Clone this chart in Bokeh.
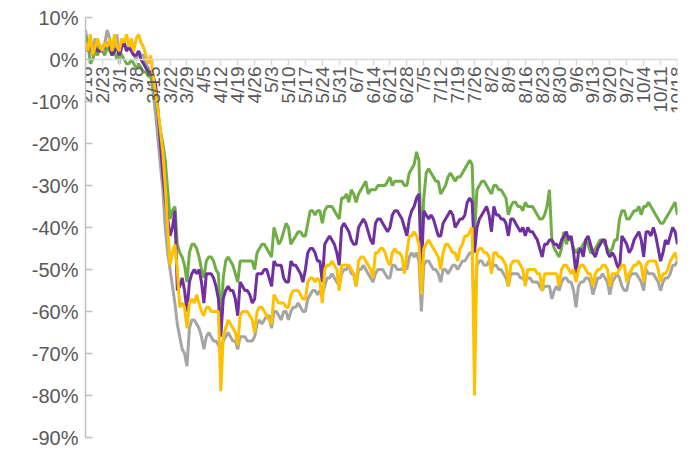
from math import pi
from bokeh.plotting import figure
from bokeh.models import Range1d, LinearAxis, FixedTicker, PrintfTickFormatter
from bokeh.embed import file_html
from bokeh.resources import INLINE
from bokeh.core.properties import value

# x categories: daily from 2/16 to 10/18; tick labels weekly
tick_labels = ["2/16", "2/23", "3/1", "3/8", "3/15", "3/22", "3/29", "4/5", "4/12",
               "4/19", "4/26", "5/3", "5/10", "5/17", "5/24", "5/31", "6/7", "6/14",
               "6/21", "6/28", "7/5", "7/12", "7/19", "7/26", "8/2", "8/9", "8/16",
               "8/23", "8/30", "9/6", "9/13", "9/20", "9/27", "10/4", "10/11", "10/18"]

gray_vals = [
    7, 3, 5, 2, 5, 3, 2,
    3, 4, 7, 5, 2, 4, 6,
    -1, 3, 4, 2, 3, 2, 1,
    0, 2, 1, 1, -1, -2, -4,
    -8, -13, -19, -25, -31, -40, -46,
    -50, -54, -58, -63, -66, -69, -70,
    -73, -64, -62, -62, -63, -64, -66,
    -69, -66, -65, -66, -67, -67, -68,
    -69, -67, -66, -65, -66, -67, -67,
    -69, -66, -66, -66, -67, -67, -67,
    -66, -63, -62, -63, -62, -61, -61,
    -64, -60, -60, -61, -62, -60, -60,
    -62, -60, -59, -59, -58, -59, -60,
    -60, -57, -56, -55, -55, -56, -55,
    -56, -54, -52, -52, -51, -52, -53,
    -54, -51, -50, -50, -49, -51, -51,
    -54, -50, -50, -49, -50, -51, -52,
    -53, -51, -50, -50, -50, -51, -52,
    -52, -49, -49, -50, -50, -50, -49,
    -50, -47, -46, -47, -46, -48, -60,
    -49, -48, -48, -49, -50, -50, -51,
    -53, -50, -50, -51, -50, -49, -49,
    -50, -49, -48, -48, -47, -46, -46,
    -63, -49, -48, -48, -49, -49, -48,
    -50, -49, -49, -50, -50, -51, -52,
    -54, -51, -51, -51, -51, -52, -52,
    -53, -52, -52, -53, -53, -53, -54,
    -55, -54, -54, -54, -57, -55, -54,
    -55, -53, -52, -52, -53, -53, -55,
    -59, -54, -53, -53, -52, -52, -53,
    -56, -54, -52, -52, -51, -52, -53,
    -56, -53, -52, -51, -52, -54, -55,
    -55, -52, -51, -51, -51, -52, -53,
    -55, -50, -51, -51, -51, -52, -53,
    -55, -53, -52, -52, -51, -49, -49,
    -48]

yellow_vals = [
    4, 2, 6, 1, 3, 5, 3,
    2, 4, 3, 5, 2, 6, 3,
    2, 5, 4, 6, 3, 5, 2,
    5, 6, 4, 3, 1, -1, 1,
    -4, -8, -12, -17, -22, -30, -40,
    -49, -46, -44, -50, -59, -58, -59,
    -64, -58, -57, -58, -56, -58, -60,
    -61, -59, -59, -60, -60, -60, -60,
    -79, -66, -64, -62, -63, -64, -65,
    -68, -61, -60, -60, -60, -61, -62,
    -65, -60, -59, -59, -60, -61, -62,
    -63, -56, -57, -58, -58, -58, -59,
    -59, -56, -55, -55, -55, -56, -57,
    -57, -53, -52, -52, -53, -52, -53,
    -58, -50, -49, -49, -48, -49, -50,
    -55, -49, -49, -49, -49, -50, -51,
    -54, -48, -47, -47, -48, -49, -50,
    -52, -46, -46, -45, -45, -46, -48,
    -49, -46, -45, -46, -46, -47, -51,
    -46, -42, -42, -41, -42, -44, -56,
    -45, -44, -43, -44, -45, -46, -47,
    -50, -46, -44, -44, -45, -46, -46,
    -48, -45, -44, -42, -42, -41, -40,
    -80, -46, -45, -45, -46, -46, -47,
    -51, -46, -46, -47, -47, -48, -49,
    -54, -49, -48, -48, -48, -49, -50,
    -54, -50, -50, -50, -50, -51, -51,
    -55, -51, -51, -51, -51, -51, -51,
    -54, -50, -49, -49, -50, -51, -50,
    -53, -50, -49, -49, -50, -51, -51,
    -54, -51, -50, -50, -49, -49, -50,
    -54, -51, -51, -51, -50, -49, -49,
    -53, -51, -50, -49, -49, -48, -49,
    -53, -49, -48, -48, -48, -48, -50,
    -53, -51, -51, -50, -48, -47, -46,
    -48]

purple_vals = [
    3, 2, 4, 1, 3, 2, 2,
    2, 3, 4, 3, 1, 2, 3,
    1, 3, 4, 2, 3, 2, 1,
    1, 2, 0, -1, -2, -3, -3,
    -4, -6, -12, -20, -27, -33, -38,
    -42, -40, -36, -55, -54, -52, -55,
    -60, -53, -51, -50, -51, -50, -53,
    -58, -51, -51, -51, -52, -54, -57,
    -66, -57, -55, -54, -55, -55, -57,
    -61, -53, -54, -55, -55, -56, -58,
    -57, -51, -51, -51, -50, -50, -52,
    -54, -48, -49, -49, -49, -52, -53,
    -53, -48, -49, -49, -50, -51, -53,
    -50, -46, -45, -45, -46, -48, -48,
    -53, -44, -43, -42, -43, -44, -46,
    -49, -40, -39, -40, -41, -43, -44,
    -44, -40, -39, -38, -39, -41, -43,
    -44, -39, -38, -38, -39, -40, -41,
    -40, -37, -36, -36, -37, -38, -40,
    -42, -38, -36, -35, -33, -32, -50,
    -36, -37, -38, -37, -38, -40, -42,
    -42, -39, -38, -37, -36, -37, -40,
    -39, -38, -38, -37, -34, -33, -34,
    -46, -40, -38, -37, -36, -35, -37,
    -41, -35, -37, -37, -38, -38, -39,
    -42, -38, -38, -39, -40, -41, -40,
    -42, -40, -41, -41, -42, -43, -45,
    -47, -44, -44, -43, -43, -44, -44,
    -45, -43, -42, -41, -43, -42, -46,
    -51, -46, -45, -47, -43, -42, -44,
    -46, -47, -45, -44, -43, -43, -46,
    -47, -46, -47, -49, -50, -42, -43,
    -44, -46, -45, -43, -42, -41, -43,
    -47, -41, -41, -42, -40, -42, -45,
    -48, -46, -43, -44, -42, -40, -41,
    -44]

green_vals = [
    6, 4, -1, 0, 2, 1, 3,
    2, 1, 3, 2, 1, 2, 0,
    2, 1, 0, -1, -1, 0, -1,
    -2, -1, -2, -3, -3, -4, -4,
    -6, -9, -13, -17, -20, -24, -31,
    -38, -36, -35, -44, -46, -47, -49,
    -53, -46, -44, -44, -45, -47, -50,
    -52, -48, -47, -47, -48, -50, -51,
    -63, -52, -48, -47, -48, -49, -51,
    -53, -48, -48, -48, -48, -48, -48,
    -50, -46, -45, -44, -44, -45, -46,
    -47, -40, -42, -44, -43, -41, -39,
    -40, -44, -43, -42, -41, -41, -42,
    -42, -39, -36, -36, -37, -36, -36,
    -39, -36, -35, -35, -35, -36, -37,
    -38, -33, -33, -32, -34, -31, -32,
    -34, -32, -31, -30, -29, -32, -31,
    -31, -31, -30, -30, -30, -30, -29,
    -28, -30, -29, -29, -29, -29, -30,
    -30, -27, -26, -25, -22, -24, -45,
    -33, -27, -26, -27, -28, -29, -29,
    -32, -31, -30, -28, -27, -28, -29,
    -28, -28, -27, -26, -25, -24, -25,
    -42, -31, -30, -29, -29, -30, -31,
    -32, -30, -30, -31, -31, -32, -33,
    -37, -35, -34, -34, -35, -35, -36,
    -34, -35, -35, -35, -36, -37, -38,
    -38, -37, -35, -31, -43, -45, -46,
    -47, -45, -41, -44, -42, -43, -45,
    -46, -45, -45, -44, -43, -44, -46,
    -46, -45, -44, -43, -43, -44, -45,
    -46, -45, -43, -43, -38, -36, -36,
    -38, -38, -37, -36, -36, -35, -37,
    -35, -35, -34, -35, -36, -37, -38,
    -39, -39, -38, -37, -36, -35, -34,
    -37]

day_idx = list(range(len(gray_vals)))
tick_pos = [7 * i for i in range(len(tick_labels))]

FONT = "Liberation Sans"
TEXT_COLOR = "#595959"

p = figure(width=688, height=448, output_backend="svg", toolbar_location=None,
           x_range=Range1d(0, 245), y_range=Range1d(-90, 10),
           x_axis_location=None,
           min_border_left=85, min_border_right=11, min_border_top=17, min_border_bottom=11)
p.outline_line_color = None
p.xgrid.grid_line_color = None
p.ygrid.grid_line_color = None
p.background_fill_color = "white"
p.border_fill_color = "white"

# y axis
ya = p.yaxis[0]
ya.ticker = FixedTicker(ticks=list(range(-90, 11, 10)))
ya.formatter = PrintfTickFormatter(format="%d%%")
ya.axis_line_color = "#bfbfbf"
ya.axis_line_width = 1.5
ya.major_tick_line_color = "#bfbfbf"
ya.major_tick_line_width = 1.5
ya.major_tick_in = 7
ya.major_tick_out = 0
ya.minor_tick_line_color = None
ya.major_label_text_font = FONT
ya.major_label_text_font_size = "20px"
ya.major_label_text_color = TEXT_COLOR
ya.major_label_standoff = 7

# x axis at y = 0
xa = LinearAxis(fixed_location=0, ticker=FixedTicker(ticks=tick_pos))
xa.axis_line_color = "#d9d9d9"
xa.axis_line_width = 1.5
xa.major_tick_line_color = "#d9d9d9"
xa.major_tick_line_width = 1.5
xa.major_tick_in = 0
xa.major_tick_out = 6
xa.minor_tick_line_color = None
xa.major_label_text_font_size = "1px"
xa.major_label_text_alpha = 0
xa.major_label_standoff = 0
p.add_layout(xa, "below")

# series
p.line(day_idx, gray_vals, line_color="#a5a5a5", line_width=3)
p.line(day_idx, green_vals, line_color="#70ad47", line_width=3)
p.line(day_idx, purple_vals, line_color="#7030a0", line_width=3)
p.line(day_idx, yellow_vals, line_color="#ffc000", line_width=3)

# rotated date labels hanging below the zero line
p.text(x=tick_pos, y=[0] * len(tick_pos), text=tick_labels, angle=pi / 2,
       text_align="right", text_baseline="middle", y_offset=7,
       text_font=value(FONT), text_font_size="19px", text_color=TEXT_COLOR)

open("out.html", "w").write(file_html(p, INLINE))
